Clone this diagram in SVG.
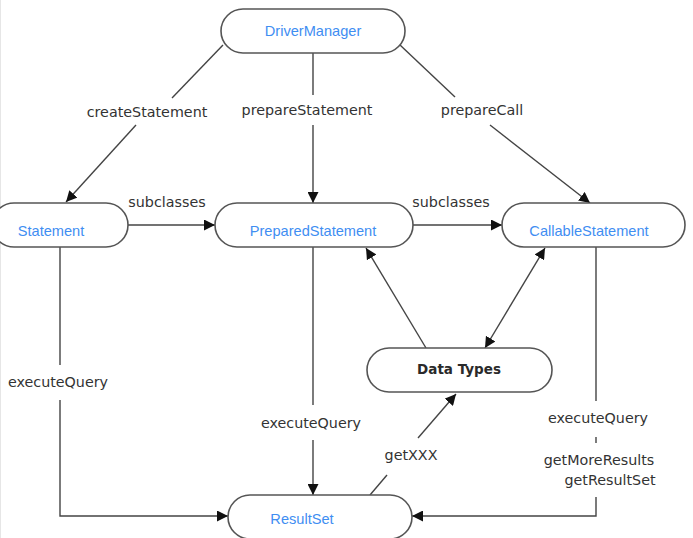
<svg xmlns="http://www.w3.org/2000/svg" width="693" height="538" viewBox="0 0 693 538">
<style>
.node{fill:#fff;stroke:#555;stroke-width:1.6}
.nt{font-family:"Liberation Sans",Arial,sans-serif;font-size:14.6px;fill:#3f8ef2;text-anchor:middle}
.bt{font-family:"DejaVu Sans",sans-serif;font-size:13.5px;font-weight:bold;fill:#2a2a2a;text-anchor:middle}
.lbl{font-family:"DejaVu Sans",sans-serif;font-size:14.3px;fill:#333}
.ln{fill:none;stroke:#444;stroke-width:1.4}
</style>
<defs>
<marker id="ah" viewBox="0 0 10 10" refX="10" refY="5" markerWidth="11" markerHeight="11" markerUnits="userSpaceOnUse" orient="auto">
<path d="M0,0 L10,5 L0,10 z" fill="#111"/>
</marker>
<marker id="as" viewBox="0 0 10 10" refX="0" refY="5" markerWidth="11" markerHeight="11" markerUnits="userSpaceOnUse" orient="auto">
<path d="M10,0 L0,5 L10,10 z" fill="#111"/>
</marker>
</defs>
<rect width="693" height="538" fill="#fff"/>
<line x1="0.5" y1="0" x2="0.5" y2="538" stroke="#e6e6e6" stroke-width="1"/>
<g id="connectors">
<line class="ln" x1="223" y1="45" x2="172" y2="98"/>
<line class="ln" x1="136" y1="125" x2="66" y2="202" marker-end="url(#ah)"/>
<line class="ln" x1="313" y1="53" x2="313" y2="95"/>
<line class="ln" x1="313" y1="125" x2="313" y2="203" marker-end="url(#ah)"/>
<line class="ln" x1="400" y1="45" x2="455" y2="97"/>
<line class="ln" x1="490" y1="125" x2="590" y2="203" marker-end="url(#ah)"/>
<line class="ln" x1="128" y1="225" x2="215" y2="225" marker-end="url(#ah)"/>
<line class="ln" x1="413" y1="225" x2="502" y2="225" marker-end="url(#ah)"/>
<line class="ln" x1="60" y1="247" x2="60" y2="365"/>
<polyline class="ln" points="60,400 60,516 228,516" marker-end="url(#ah)"/>
<line class="ln" x1="313" y1="247" x2="313" y2="405"/>
<line class="ln" x1="313" y1="440" x2="313" y2="495" marker-end="url(#ah)"/>
<line class="ln" x1="426" y1="348" x2="366" y2="248" marker-end="url(#ah)"/>
<line class="ln" x1="485" y1="348" x2="545" y2="248" marker-start="url(#as)" marker-end="url(#ah)"/>
<line class="ln" x1="370" y1="495" x2="387" y2="475"/>
<line class="ln" x1="418" y1="438" x2="456" y2="394" marker-end="url(#ah)"/>
<line class="ln" x1="596" y1="247" x2="596" y2="401"/>
<line class="ln" x1="596" y1="437" x2="596" y2="443"/>
<polyline class="ln" points="596,497 596,516 412,516" marker-end="url(#ah)"/>
</g>
<g id="labels">
<text class="lbl" x="147" y="117" text-anchor="middle">createStatement</text>
<text class="lbl" x="307" y="115" text-anchor="middle">prepareStatement</text>
<text class="lbl" x="482" y="115" text-anchor="middle">prepareCall</text>
<text class="lbl" x="167" y="207" text-anchor="middle">subclasses</text>
<text class="lbl" x="451" y="207" text-anchor="middle">subclasses</text>
<text class="lbl" x="58" y="387" text-anchor="middle">executeQuery</text>
<text class="lbl" x="311" y="428" text-anchor="middle">executeQuery</text>
<text class="lbl" x="411" y="460" text-anchor="middle">getXXX</text>
<text class="lbl" x="598" y="423" text-anchor="middle">executeQuery</text>
<text class="lbl" x="599" y="465" text-anchor="middle">getMoreResults</text>
<text class="lbl" x="610" y="485" text-anchor="middle">getResultSet</text>
</g>
<g id="DriverManager">
<rect class="node" x="221" y="9" width="184" height="44" rx="22"/>
<text class="nt" x="313" y="36">DriverManager</text>
</g>
<g id="Statement">
<rect class="node" x="-8" y="203" width="136" height="44" rx="22"/>
<text class="nt" x="51" y="236">Statement</text>
</g>
<g id="PreparedStatement">
<rect class="node" x="215" y="203" width="198" height="44" rx="22"/>
<text class="nt" x="313" y="236">PreparedStatement</text>
</g>
<g id="CallableStatement">
<rect class="node" x="502" y="203" width="183" height="44" rx="22"/>
<text class="nt" x="589" y="236">CallableStatement</text>
</g>
<g id="DataTypes">
<rect class="node" x="367" y="348" width="185" height="44" rx="22"/>
<text class="bt" x="459" y="374">Data Types</text>
</g>
<g id="ResultSet">
<rect class="node" x="228" y="495" width="184" height="44" rx="22"/>
<text class="nt" x="302" y="524">ResultSet</text>
</g>
</svg>
